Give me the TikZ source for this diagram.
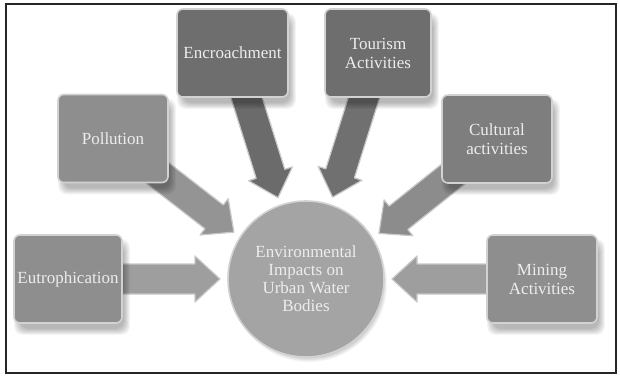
\documentclass[tikz,border=0pt]{standalone}
\usepackage{fontspec}
\setmainfont{Liberation Serif}
\usetikzlibrary{calc}
\pgfdeclarelayer{back}
\pgfdeclarelayer{bg}
\pgfdeclarelayer{shad}
\pgfsetlayers{back,bg,shad,main}
\definecolor{boxmid}{HTML}{8E8E8E}
\definecolor{boxdark}{HTML}{6E6E6E}
\definecolor{boxcult}{HTML}{7E7E7E}
\definecolor{circfill}{HTML}{A4A4A4}
\definecolor{rimcol}{HTML}{D2D2D2}
\definecolor{txtcol}{HTML}{EDEDED}
\definecolor{arrowrim}{HTML}{C9C9C9}
\tikzset{
  box/.style={rectangle, rounded corners=6pt, draw=rimcol, line width=1.6pt,
    minimum width=110pt, minimum height=88pt, inner sep=1pt, align=center,
    text=txtcol, font=\fontsize{17}{19}\selectfont},
  hub/.style={circle, draw=rimcol, line width=1.6pt, fill=circfill, minimum size=156pt,
    inner sep=0pt, outer sep=8pt, align=center, text=txtcol,
    font=\fontsize{17}{18}\selectfont},
  shadowpiece/.style={fill=black, opacity=0.045, rounded corners=8pt},
  fatarrow/.style={to path={
    let \p1=(\tikztostart), \p2=(\tikztotarget),
        \n1={atan2(\y2-\y1,\x2-\x1)}, \n2={veclen(\x2-\x1,\y2-\y1)} in
    ([shift={(\p1)},rotate=\n1]0pt,-15pt)
    -- ([shift={(\p1)},rotate=\n1]{\n2-25pt},-15pt)
    -- ([shift={(\p1)},rotate=\n1]{\n2-25pt},-23pt)
    -- ([shift={(\p1)},rotate=\n1]{\n2*1pt},0pt)
    -- ([shift={(\p1)},rotate=\n1]{\n2-25pt},23pt)
    -- ([shift={(\p1)},rotate=\n1]{\n2-25pt},15pt)
    -- ([shift={(\p1)},rotate=\n1]0pt,15pt)
    -- cycle}},
  flow/.style={draw=arrowrim, line width=1.2pt, line join=round, fill=#1},
}
\newcommand\boxshadow[1]{%
  \foreach \k in {0,...,6}{%
    \fill[shadowpiece] ($(#1.south west)+(4pt-\k pt+3pt,-8pt-\k pt+3pt)$)
      rectangle ($(#1.north east)+(4pt+\k pt-3pt,-8pt+\k pt-3pt)$);}}
\begin{document}
\begin{tikzpicture}[x=1pt,y=1pt]
\useasboundingbox (0,0) rectangle (620,378);
\begin{pgfonlayer}{back}
\fill[white] (0,0) rectangle (620,378);
\end{pgfonlayer}
\draw[line width=2pt, black!85] (6,5) rectangle (616,374);

\node[box, fill=boxdark, minimum width=111pt] (enc) at (232.5,325) {Encroachment};
\node[box, fill=boxdark, minimum width=106pt] (tour) at (378,325) {Tourism\\Activities};
\node[box, fill=boxmid] (poll) at (113,239.5) {Pollution};
\node[box, fill=boxcult] (cult) at (497,239) {Cultural\\activities};
\node[box, fill=boxmid, minimum width=108pt] (eutr) at (68,99) {Eutrophication};
\node[box, fill=boxmid] (mine) at (542,99) {Mining\\Activities};
\node[hub] (env) at (306,99) {Environmental\\Impacts on\\Urban Water\\Bodies};

\begin{pgfonlayer}{shad}
\boxshadow{enc}
\boxshadow{tour}
\boxshadow{poll}
\boxshadow{cult}
\boxshadow{eutr}
\boxshadow{mine}
\foreach \k in {0,...,6}{\fill[fill=black, opacity=0.04] ($(env.center)+(3pt,-5pt)$) circle[radius=72pt+\k pt];}
\end{pgfonlayer}

\begin{pgfonlayer}{bg}
\draw[flow=black!42] (poll) to[fatarrow] (env.147);
\draw[flow=black!58] (enc) to[fatarrow] (env.109);
\draw[flow=black!56] (tour) to[fatarrow] (env.72);
\draw[flow=black!45] (cult) to[fatarrow] (env.32);
\draw[flow=black!38] (eutr) to[fatarrow] (env.180);
\draw[flow=black!38] (mine) to[fatarrow] (env.0);
\end{pgfonlayer}
\end{tikzpicture}
\end{document}
